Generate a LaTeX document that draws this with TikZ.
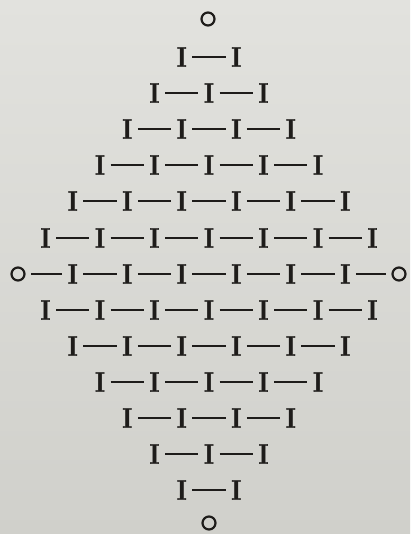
\documentclass[tikz,border=0pt]{standalone}
\usepackage{graphicx}
\usepackage{fontspec}
\newfontfamily\ifont{lmroman10-bold.otf}[FakeBold=1.2]
\usetikzlibrary{calc}
\definecolor{paperTop}{RGB}{226,226,222}
\definecolor{paperBot}{RGB}{208,208,203}
\definecolor{ink}{RGB}{30,28,26}
\newcommand{\Ibar}{\scalebox{0.82}[1]{I}}
\begin{document}
\begin{tikzpicture}[x=1pt,y=-1pt,
  ibar/.style={text=ink,inner xsep=0pt,inner ysep=0pt,font=\ifont\fontsize{28}{28}\selectfont},
  ring/.style={circle,draw=ink,line width=2.2pt,minimum size=13pt,inner sep=0pt},
  link/.style={draw=ink,line width=1.9pt,shorten <=5.5pt,shorten >=5.5pt}]
\useasboundingbox (0,0) rectangle (410,534);
\shade[top color=paperTop,bottom color=paperBot] (0,0) rectangle (410,534);
% rows of I's
\def\cx{209}
\def\dx{54.5}
\foreach \r/\n in {0/2,1/3,2/4,3/5,4/6,5/7,6/6,7/7,8/6,9/5,10/4,11/3,12/2}{
  \pgfmathsetmacro{\yy}{round(57+36.1*\r)}
  \pgfmathtruncatemacro{\last}{\n-1}
  \foreach \k in {0,...,\last}{
    \pgfmathsetmacro{\xx}{\cx+\dx*(\k-(\n-1)/2)}
    \node[ibar] (n-\r-\k) at (\xx,\yy) {\Ibar};
  }
  \foreach \k in {1,...,\last}{
    \pgfmathtruncatemacro{\p}{\k-1}
    \draw[link] (n-\r-\p) -- (n-\r-\k);
  }
}
% rings
\node[ring] (top) at (208,19) {};
\node[ring] (bot) at (209,523) {};
\node[ring] (left) at (18,274) {};
\node[ring] (right) at (399,274) {};
\draw[link] (left) -- (n-6-0);
\draw[link] (n-6-5) -- (right);
\end{tikzpicture}
\end{document}
